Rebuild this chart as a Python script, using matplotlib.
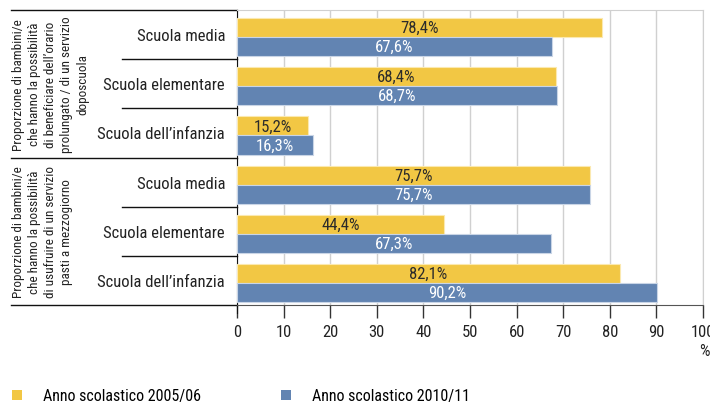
import matplotlib.pyplot as plt
import matplotlib.transforms as mtransforms
from matplotlib.patches import Patch
import numpy as np

plt.rcParams['font.family'] = ['Roboto Condensed', 'DejaVu Sans']

# dati
categorie = ['Scuola media', 'Scuola elementare', "Scuola dell’infanzia",
             'Scuola media', 'Scuola elementare', "Scuola dell’infanzia"]
anno_2005 = [78.4, 68.4, 15.2, 75.7, 44.4, 82.1]
anno_2010 = [67.6, 68.7, 16.3, 75.7, 67.3, 90.2]
gruppi = [
    "Proporzione di bambini/e\nche hanno la possibilità\ndi beneficiare dell’orario\nprolungato / di un servizio\ndoposcuola",
    "Proporzione di bambini/e\nche hanno la possibilità\ndi usufruire di un servizio\npasti a mezzogiorno",
]
serie = ['Anno scolastico 2005/06', 'Anno scolastico 2010/11']
xticks = np.arange(0, 101, 10)

giallo = '#F2C744'
blu = '#6284B2'

fig = plt.figure(figsize=(7.1, 4.06), dpi=100)
ax = fig.add_axes([237 / 710, 1 - 306 / 406, 466 / 710, 295 / 406])

n = len(categorie)
pos = np.arange(n)
h = 0.388
y1 = pos + 0.357
y2 = pos + 0.745

ax.barh(y1, anno_2005, height=h, color=giallo, edgecolor='#fbe9b0', linewidth=0.8, zorder=3)
ax.barh(y2, anno_2010, height=h, color=blu, edgecolor='#c9d5e6', linewidth=0.8, zorder=3)

for y, v in zip(y1, anno_2005):
    ax.text(v / 2, y, f"{v:.1f}%".replace('.', ','), ha='center', va='center',
            fontsize=12, color='#2b2b2b', zorder=4)
for y, v in zip(y2, anno_2010):
    ax.text(v / 2, y, f"{v:.1f}%".replace('.', ','), ha='center', va='center',
            fontsize=12, color='white', zorder=4)

ax.set_xlim(0, 100)
ax.set_ylim(n, 0)
ax.set_xticks(xticks)
ax.set_xticklabels([str(t) for t in xticks], fontsize=12, color='#222222')
ax.set_yticks([])
ax.grid(axis='x', color='#d0d0d0', linewidth=1, zorder=0)
ax.tick_params(axis='x', direction='out', length=9, width=1, color='#333333', pad=5)

for s in ['top', 'right']:
    ax.spines[s].set_color('#d0d0d0')
ax.spines['left'].set_color('#111111')
ax.spines['bottom'].set_color('#555555')
ax.spines['left'].set_bounds(n + 0.17, 0)

# etichette a sinistra
tr = mtransforms.blended_transform_factory(fig.transFigure, ax.transData)
for i, c in enumerate(categorie):
    ax.text(225 / 710, i + 0.52, c, transform=tr, ha='right', va='center', fontsize=12, color='#222222')

# linee di separazione
for y in [1, 2, 4, 5]:
    ax.plot([122 / 710, 237 / 710], [y, y], transform=tr, color='#111111', lw=1, clip_on=False)
for y in [0, 3, 6]:
    ax.plot([11 / 710, 237 / 710], [y, y], transform=tr, color='#111111', lw=1, clip_on=False)

for g, yc in zip(gruppi, [1.5, 4.5]):
    ax.text(12 / 710, yc, g, transform=tr, rotation=90, ha='left', va='center',
            multialignment='center', fontsize=9.5, color='#222222', linespacing=1.3)

fig.text(704 / 710, 1 - 352 / 406, '%', ha='center', va='center', fontsize=12, color='#222222')

handles = [Patch(facecolor=giallo), Patch(facecolor=blu)]
fig.legend(handles, serie, loc='center left', bbox_to_anchor=(12 / 710, 1 - 397 / 406),
           ncol=2, frameon=False, fontsize=11.5, handlelength=0.63, handleheight=0.63,
           handletextpad=1.3, columnspacing=5.0, borderaxespad=0, borderpad=0)

fig.savefig('out.png', dpi=100)
